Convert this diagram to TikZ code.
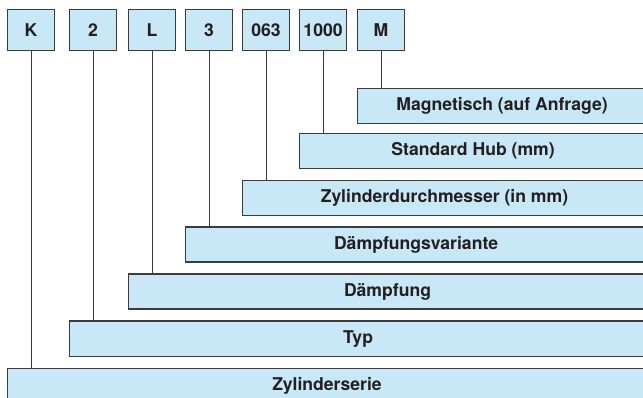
\documentclass[tikz,border=0pt]{standalone}
\usepackage{fontspec}
\setmainfont{TeX Gyre Heros}
\definecolor{barfill}{RGB}{200,232,248}
\definecolor{edge}{RGB}{60,60,60}
\definecolor{txt}{RGB}{35,31,32}
\tikzset{
  codebox/.style={draw=edge, line width=1.1pt, fill=barfill, anchor=north west,
    minimum width=47pt, minimum height=41pt, inner sep=0pt, text=txt,
    font=\fontsize{17.6}{17.6}\selectfont\bfseries},
  barbox/.style={draw=edge, line width=1.1pt, fill=barfill, anchor=north west,
    minimum height=35pt, inner sep=0pt, text=txt,
    font=\fontsize{17.6}{17.6}\selectfont\bfseries},
  conn/.style={draw=edge, line width=1.1pt}
}
\begin{document}
\begin{tikzpicture}[x=1pt,y=-1pt]
\useasboundingbox (0,0) rectangle (643,398);
\clip (0,0) rectangle (643,398);
% code boxes
\node[codebox] (k) at (7,9) {K};
\node[codebox] (two) at (69,9) {2};
\node[codebox] (l) at (128,9) {L};
\node[codebox] (three) at (185,9) {3};
\node[codebox] (d063) at (242,9) {063};
\node[codebox] (d1000) at (299,9) {1000};
\node[codebox] (m) at (357,9) {M};
% bars
\node[barbox, minimum width=289pt] (bm) at (357,88) {Magnetisch (auf Anfrage)};
\node[barbox, minimum width=347pt] (bs) at (299,133) {Standard Hub (mm)};
\node[barbox, minimum width=404pt] (bz) at (242,180) {Zylinderdurchmesser (in mm)};
\node[barbox, minimum width=461pt] (bdv) at (185,226.5) {Dämpfungsvariante};
\node[barbox, minimum width=518pt] (bd) at (128,273.5) {Dämpfung};
\node[barbox, minimum width=577pt] (bt) at (69,320.5) {Typ};
\node[barbox, minimum width=639pt] (bzs) at (7,368) {Zylinderserie};
% connectors
\draw[conn] (k.south) -- (k.south |- bzs.north);
\draw[conn] (two.south) -- (two.south |- bt.north);
\draw[conn] (l.south) -- (l.south |- bd.north);
\draw[conn] (three.south) -- (three.south |- bdv.north);
\draw[conn] (d063.south) -- (d063.south |- bz.north);
\draw[conn] (d1000.south) -- (d1000.south |- bs.north);
\draw[conn] (m.south) -- (m.south |- bm.north);
\end{tikzpicture}
\end{document}
